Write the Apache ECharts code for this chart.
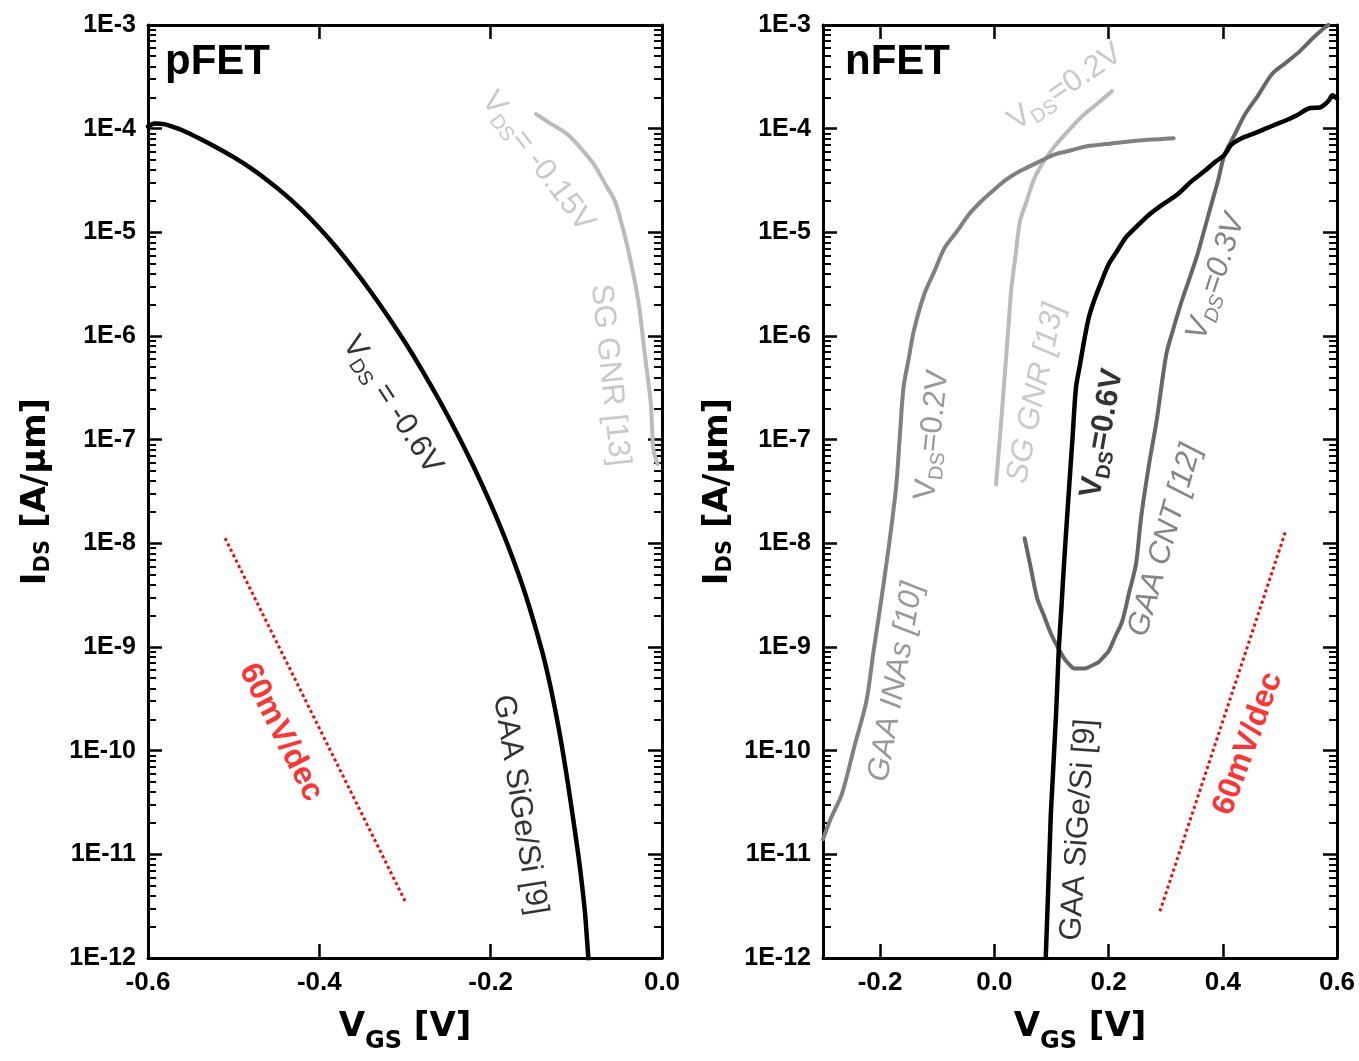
<!DOCTYPE html>
<html>
<head>
<meta charset="utf-8">
<title>Transfer characteristics: pFET and nFET</title>
<script src="https://cdn.jsdelivr.net/npm/echarts@6/dist/echarts.min.js"></script>
<style>
  html, body { margin: 0; padding: 0; background: #fff; }
  #chart { width: 1359px; height: 1061px; }
</style>
</head>
<body>
<div id="chart"></div>
<script>
// ---------------- data: [V_GS (V), I_DS (A/um)] ----------------
// pFET, GAA SiGe/Si [9], V_DS = -0.6 V
const pSiGe = [
  [-0.600, 1.05e-4], [-0.592, 1.12e-4], [-0.580, 1.10e-4], [-0.570, 1.035e-4], [-0.560, 9.66e-5],
  [-0.540, 8.04e-5], [-0.520, 6.59e-5], [-0.500, 5.31e-5], [-0.480, 4.16e-5], [-0.460, 3.15e-5],
  [-0.440, 2.31e-5], [-0.420, 1.63e-5], [-0.400, 1.10e-5], [-0.380, 7.13e-6], [-0.360, 4.44e-6],
  [-0.340, 2.67e-6], [-0.320, 1.55e-6], [-0.300, 8.69e-7], [-0.280, 4.67e-7], [-0.260, 2.40e-7],
  [-0.240, 1.18e-7], [-0.220, 5.51e-8], [-0.200, 2.40e-8], [-0.180, 9.57e-9], [-0.160, 3.32e-9],
  [-0.140, 9.14e-10], [-0.130, 4.08e-10], [-0.120, 1.55e-10], [-0.110, 4.91e-11], [-0.100, 1.35e-11],
  [-0.095, 6.62e-12], [-0.090, 2.79e-12], [-0.087, 1.31e-12], [-0.085, 7.9e-13]
];
// pFET, SG GNR [13], V_DS = -0.15 V
const pGnr = [
  [-0.147, 1.38e-4], [-0.130, 1.12e-4], [-0.111, 8.9e-5], [-0.095, 6.5e-5], [-0.080, 4.6e-5],
  [-0.067, 3.0e-5], [-0.055, 2.0e-5], [-0.047, 1.2e-5], [-0.040, 7.1e-6], [-0.033, 3.8e-6],
  [-0.027, 2.0e-6], [-0.020, 6.6e-7], [-0.013, 2.2e-7], [-0.010, 8.0e-8], [-0.005, 5.8e-8]
];
// pFET, 60 mV/dec reference
const pSlope = [[-0.51, 1.12e-8], [-0.30, 3.55e-12]];

// nFET, GAA InAs [10], V_DS = 0.2 V
const nInas = [
  [-0.300, 1.4e-11], [-0.285, 2.3e-11], [-0.267, 3.8e-11], [-0.245, 1.1e-10], [-0.224, 3.0e-10],
  [-0.212, 8.7e-10], [-0.200, 2.4e-9], [-0.185, 9.1e-9], [-0.172, 3.5e-8], [-0.166, 9.8e-8],
  [-0.159, 3.2e-7], [-0.150, 6.0e-7], [-0.141, 1.12e-6], [-0.123, 2.5e-6], [-0.105, 4.2e-6],
  [-0.087, 7.1e-6], [-0.065, 1.03e-5], [-0.045, 1.48e-5], [-0.025, 1.94e-5], [-0.003, 2.5e-5],
  [0.020, 3.2e-5], [0.045, 3.9e-5], [0.075, 4.7e-5], [0.104, 5.6e-5], [0.135, 6.2e-5],
  [0.164, 6.8e-5], [0.195, 7.1e-5], [0.224, 7.4e-5], [0.270, 7.8e-5], [0.314, 8.1e-5]
];
// nFET, SG GNR [13], V_DS = 0.2 V
const nGnr = [
  [0.003, 3.7e-8], [0.007, 6.9e-8], [0.012, 1.5e-7], [0.016, 2.9e-7], [0.021, 6.6e-7],
  [0.025, 1.3e-6], [0.030, 2.95e-6], [0.037, 5.9e-6], [0.045, 1.29e-5], [0.056, 1.95e-5],
  [0.069, 3.2e-5], [0.085, 4.7e-5], [0.104, 6.6e-5], [0.127, 9.2e-5], [0.152, 1.29e-4],
  [0.178, 1.7e-4], [0.206, 2.3e-4]
];
// nFET, GAA SiGe/Si [9], V_DS = 0.6 V
const nSiGe = [
  [0.090, 1.0e-12], [0.093, 2.9e-12], [0.095, 5.9e-12], [0.097, 1.2e-11], [0.099, 2.5e-11],
  [0.102, 5.1e-11], [0.105, 1.07e-10], [0.108, 2.2e-10], [0.111, 5.4e-10], [0.113, 9.8e-10],
  [0.117, 2.2e-9], [0.122, 6.3e-9], [0.127, 1.66e-8], [0.131, 3.5e-8], [0.137, 1.06e-7],
  [0.143, 3.2e-7], [0.150, 5.3e-7], [0.158, 9.5e-7], [0.166, 1.55e-6], [0.176, 2.3e-6],
  [0.188, 3.4e-6], [0.200, 4.9e-6], [0.215, 6.6e-6], [0.230, 8.9e-6], [0.250, 1.15e-5],
  [0.271, 1.48e-5], [0.295, 1.86e-5], [0.320, 2.3e-5], [0.345, 3.1e-5], [0.368, 3.9e-5],
  [0.385, 4.7e-5], [0.403, 5.6e-5], [0.415, 7.0e-5], [0.433, 8.1e-5], [0.455, 9.0e-5],
  [0.475, 1.0e-4], [0.493, 1.1e-4], [0.510, 1.2e-4], [0.530, 1.35e-4], [0.553, 1.58e-4],
  [0.570, 1.6e-4], [0.585, 1.85e-4], [0.592, 2.1e-4], [0.600, 1.95e-4]
];
// nFET, GAA CNT [12], V_DS = 0.3 V
const nCnt = [
  [0.053, 1.12e-8], [0.064, 5.75e-9], [0.075, 2.95e-9], [0.087, 2.0e-9], [0.099, 1.35e-9],
  [0.110, 1.02e-9], [0.122, 7.8e-10], [0.131, 6.8e-10], [0.140, 6.2e-10], [0.158, 6.2e-10],
  [0.170, 6.6e-10], [0.182, 7.1e-10], [0.191, 8.0e-10], [0.200, 9.1e-10], [0.212, 1.27e-9],
  [0.224, 1.78e-9], [0.236, 3.35e-9], [0.248, 6.3e-9], [0.256, 1.6e-8], [0.262, 2.8e-8],
  [0.272, 6.3e-8], [0.284, 1.5e-7], [0.301, 6.6e-7], [0.313, 1.15e-6], [0.326, 2.0e-6],
  [0.341, 3.5e-6], [0.356, 6.2e-6], [0.368, 1.07e-5], [0.380, 1.86e-5], [0.392, 3.2e-5],
  [0.403, 5.6e-5], [0.420, 8.6e-5], [0.439, 1.38e-4], [0.462, 2.1e-4], [0.487, 3.4e-4],
  [0.510, 4.3e-4], [0.535, 5.6e-4], [0.557, 7.4e-4], [0.577, 9.3e-4], [0.585, 1.0e-3]
];
// nFET, 60 mV/dec reference
const nSlope = [[0.29, 2.82e-12], [0.51, 1.31e-8]];

// ---------------- axes ----------------
const xTicksP = [-0.6, -0.4, -0.2, 0.0];
const xTicksN = [-0.2, 0.0, 0.2, 0.4, 0.6];
const yTickLabels = ['1E-12', '1E-11', '1E-10', '1E-9', '1E-8', '1E-7', '1E-6', '1E-5', '1E-4', '1E-3'];
const yDecades = [-12, -11, -10, -9, -8, -7, -6, -5, -4, -3];

// log-spaced minor tick positions (exponent space) between decades
const yMinorExps = [];
for (let e = -12; e < -3; e++) {
  for (let k = 2; k <= 9; k++) yMinorExps.push(e + Math.log10(k));
}

const FONT = 'Liberation Sans';
const TITLE_FONT = 'DejaVu Sans';
const BLACK = '#000000';
const GNR_GRAY = '#bbbbbb';
const INAS_GRAY = '#808080';
const CNT_GRAY = '#676767';
const RED = '#ff0000';

// rich styles: main text + lowered subscript
function subRich(size, sub, drop, family, weight, style) {
  const pad = drop + 0.85 * (size - sub);
  return {
    m: { fontSize: size, lineHeight: size, fontFamily: family, fontWeight: weight, fontStyle: style, verticalAlign: 'top' },
    s: { fontSize: sub, lineHeight: sub, fontFamily: family, fontWeight: weight, fontStyle: style, verticalAlign: 'top', padding: [pad, 0, 0, 0] }
  };
}

const axisLineStyle = { show: true, onZero: false, lineStyle: { color: BLACK, width: 3 } };
const majorTick = (values) => ({ show: true, inside: true, length: 14, lineStyle: { color: BLACK, width: 2.5 }, customValues: values });
const minorTickStyle = { show: true, inside: true, length: 8, lineStyle: { color: BLACK, width: 2 }, customValues: yMinorExps };

function xAxesFor(grid, min, max, ticks) {
  const fmt = v => (Math.abs(v) < 1e-9 ? '0.0' : v.toFixed(1));
  return [
    {
      type: 'value', gridIndex: grid, position: 'bottom', min, max,
      axisLine: axisLineStyle, axisTick: majorTick(ticks), splitLine: { show: false },
      axisLabel: { customValues: ticks, formatter: fmt, color: BLACK, fontFamily: FONT, fontWeight: 'bold', fontSize: 26, margin: 12 },
      name: '{m|V}{s|GS}{m| [V]}', nameLocation: 'middle', nameGap: 52,
      nameTextStyle: { color: BLACK, rich: subRich(34, 24, 11, TITLE_FONT, 'bold', 'normal') }
    },
    {
      type: 'value', gridIndex: grid, position: 'top', min, max,
      axisLine: axisLineStyle, axisTick: majorTick(ticks), axisLabel: { show: false }, splitLine: { show: false }
    }
  ];
}

function yAxesFor(grid, nameGap) {
  const expAxis = (pos, tick, line) => ({
    type: 'value', gridIndex: grid, position: pos, min: -12, max: -3,
    axisLine: line ? axisLineStyle : { show: false, onZero: false },
    axisTick: tick, axisLabel: { show: false }, splitLine: { show: false }
  });
  return [
    {
      type: 'log', logBase: 10, gridIndex: grid, position: 'left', min: 1e-12, max: 1e-3,
      axisLine: axisLineStyle,
      axisTick: { show: true, inside: true, length: 14, lineStyle: { color: BLACK, width: 2.5 } },
      splitLine: { show: false }, minorTick: { show: false },
      axisLabel: {
        formatter: v => yTickLabels[Math.round(Math.log10(v)) + 12],
        color: BLACK, fontFamily: FONT, fontWeight: 'bold', fontSize: 25, margin: 12
      },
      name: '{m|I}{s|DS}{m| [A/μm]}', nameLocation: 'middle', nameRotate: 90, nameGap,
      nameTextStyle: { color: BLACK, rich: subRich(34, 21, 3, TITLE_FONT, 'bold', 'normal') }
    },
    expAxis('left', minorTickStyle, false),
    expAxis('right', majorTick(yDecades), true),
    expAxis('right', minorTickStyle, false)
  ];
}

// ---------------- series ----------------
function curve(data, color, width, grid) {
  return {
    type: 'line', data, xAxisIndex: grid * 2, yAxisIndex: grid * 4,
    symbol: 'none', smooth: 0.3, clip: true, z: 3,
    lineStyle: { color, width, join: 'round', cap: 'round' }
  };
}
function slopeLine(data, grid) {
  return {
    type: 'line', data, xAxisIndex: grid * 2, yAxisIndex: grid * 4,
    symbol: 'none', z: 2,
    lineStyle: { color: RED, width: 3, type: [3, 3] }
  };
}

// text annotations anchored at data coordinates
const pNotes = [
  { t: '{m|V}{s|DS}{m| = -0.6V}', at: [-0.315, 2.16e-7], rot: -57, color: BLACK },
  { t: '{m|V}{s|DS}{m|= -0.15V}', at: [-0.145, 4.8e-5], rot: -53, color: GNR_GRAY },
  { t: '{m|SG GNR [13]}', at: [-0.061, 4.2e-7], rot: -84, color: GNR_GRAY },
  { t: '{m|GAA SiGe/Si [9]}', at: [-0.166, 3.0e-11], rot: -81, color: BLACK },
  { t: '{m|60mV/dec}', at: [-0.445, 1.5e-10], rot: -63, color: RED, bold: true, size: 32 }
];
const nNotes = [
  { t: '{m|V}{s|DS}{m|=0.2V}', at: [0.124, 2.5e-4], rot: 34, color: GNR_GRAY },
  { t: '{m|V}{s|DS}{m|=0.2V}', at: [-0.109, 1.11e-7], rot: 84, color: INAS_GRAY },
  { t: '{m|GAA INAs [10]}', at: [-0.172, 4.6e-10], rot: 80, color: INAS_GRAY, italic: true },
  { t: '{m|SG GNR [13]}', at: [0.073, 2.8e-7], rot: 78, color: GNR_GRAY, italic: true },
  { t: '{m|V}{s|DS}{m|=0.6V}', at: [0.189, 1.15e-7], rot: 80, color: BLACK, bold: true },
  { t: '{m|GAA CNT [12]}', at: [0.299, 1.07e-8], rot: 74, color: CNT_GRAY, italic: true },
  { t: '{m|V}{s|DS}{m|=0.3V}', at: [0.388, 3.7e-6], rot: 72, color: CNT_GRAY, italic: true },
  { t: '{m|GAA SiGe/Si [9]}', at: [0.148, 1.72e-11], rot: 86, color: BLACK },
  { t: '{m|60mV/dec}', at: [0.444, 1.17e-10], rot: 70, color: RED, bold: true, size: 32 }
];
function notesSeries(notes, grid) {
  return {
    type: 'scatter', xAxisIndex: grid * 2, yAxisIndex: grid * 4, silent: true, z: 5,
    symbolSize: 1, itemStyle: { color: 'rgba(0,0,0,0)' },
    data: notes.map(n => ({
      value: n.at,
      label: {
        show: true, position: 'inside', rotate: n.rot, formatter: n.t, color: n.color,
        align: 'center', verticalAlign: 'middle',
        rich: subRich(n.size || 31, 20, 5, FONT, n.bold ? 'bold' : 'normal', n.italic ? 'italic' : 'normal')
      }
    }))
  };
}

const titleStyle = { color: BLACK, fontFamily: FONT, fontWeight: 'bold', fontSize: 42 };

const option = {
  animation: false,
  backgroundColor: '#ffffff',
  title: [
    { text: 'pFET', left: 165, top: 41, textStyle: titleStyle, padding: 0 },
    { text: 'nFET', left: 845, top: 41, textStyle: titleStyle, padding: 0 }
  ],
  grid: [
    { left: 148, top: 25, width: 514, height: 933, containLabel: false },
    { left: 823, top: 25, width: 514, height: 933, containLabel: false }
  ],
  xAxis: [
    ...xAxesFor(0, -0.6, 0.0, xTicksP),
    ...xAxesFor(1, -0.3, 0.6, xTicksN)
  ],
  yAxis: [
    ...yAxesFor(0, 95),
    ...yAxesFor(1, 88)
  ],
  series: [
    slopeLine(pSlope, 0),
    curve(pGnr, GNR_GRAY, 4, 0),
    curve(pSiGe, BLACK, 4.5, 0),
    notesSeries(pNotes, 0),
    slopeLine(nSlope, 1),
    curve(nGnr, GNR_GRAY, 4, 1),
    curve(nInas, INAS_GRAY, 4, 1),
    curve(nCnt, CNT_GRAY, 4, 1),
    curve(nSiGe, BLACK, 4.5, 1),
    notesSeries(nNotes, 1)
  ]
};

const chart = echarts.init(document.getElementById('chart'), null, { renderer: 'canvas' });
chart.setOption(option);
</script>
</body>
</html>
